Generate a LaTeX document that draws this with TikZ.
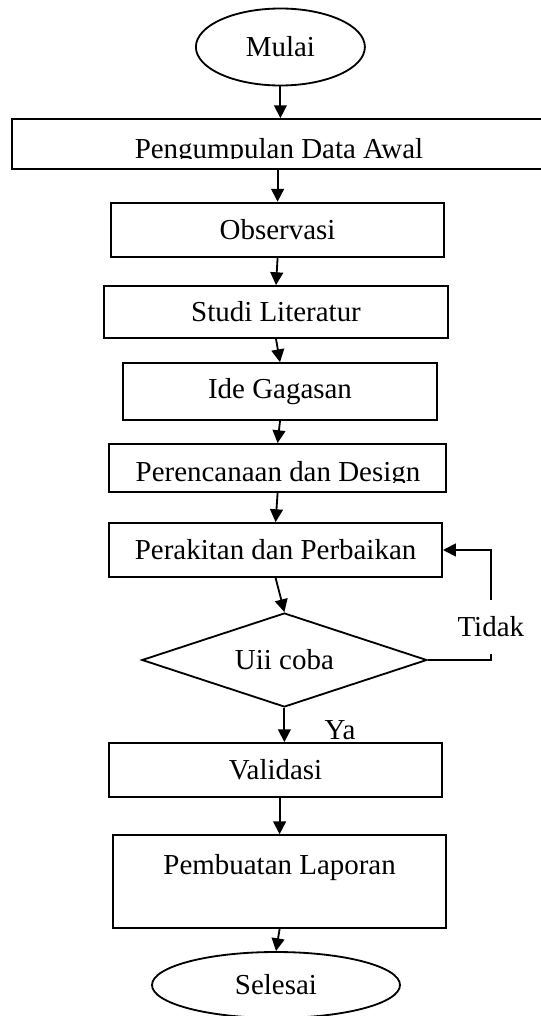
\documentclass[tikz,border=0pt]{standalone}
\usepackage{fontspec}
\setmainfont{Liberation Serif}
\usetikzlibrary{calc,shapes.geometric,arrows.meta}

\tikzset{
  proses/.style={draw, line width=1.3pt, minimum width=8.325cm, minimum height=1.35cm, inner sep=0pt},
  terminal/.style={draw, ellipse, line width=1.3pt, inner sep=0pt},
  keputusan/.style={draw, diamond, aspect=3, line width=1.3pt, inner sep=0pt},
  panah/.style={line width=1.3pt, -{Triangle[length=0.32cm,width=0.32cm]}},
  garis/.style={line width=1.3pt},
  ket/.style={fill=white, inner sep=1pt}
}

\begin{document}
\begin{tikzpicture}[font=\fontsize{20.6}{24.7}\selectfont]
    \useasboundingbox (0,0) rectangle (13.5,-25.4);
    \node[terminal, minimum width=4.225cm, minimum height=1.925cm] (mulai) at (7.01,-1.175) {Mulai};
    \node[proses, minimum width=13.7cm, minimum height=1.25cm] (data) at (7.15,-3.6) {};
    \begin{scope}
        \clip (0,-2.9) rectangle (13.5,-3.96);
        \node[anchor=base, inner sep=0pt] (tdata) at (6.975,-3.95) {Pengumpulan Data Awal};
    \end{scope}
    \node[proses] (obs) at (6.94,-5.74) {Observasi};
    \node[proses, minimum width=8.6cm, minimum height=1.3cm] (studi) at (6.9,-7.8) {Studi Literatur};
    \node[proses, minimum width=7.85cm, minimum height=1.425cm] (ide) at (7.0,-9.79) {Ide Gagasan};
    \node[proses, minimum width=8.425cm, minimum height=1.2cm] (rencana) at (6.94,-11.7) {};
    \begin{scope}
        \clip (2,-11) rectangle (12,-12.06);
        \node[anchor=base, inner sep=0pt] (trencana) at (6.95,-12.025) {Perencanaan dan Design};
    \end{scope}
    \node[proses] (perak) at (6.89,-13.75) {Perakitan dan Perbaikan};
    \node[keputusan, minimum width=7.125cm, minimum height=2.35cm] (uji) at (7.11,-16.5) {\raisebox{-0.18cm}{Uii coba}};
    \node[proses] (valid) at (6.89,-19.25) {Validasi};
    \node[proses, minimum height=2.325cm, align=center] (lapor) at (6.99,-22.04) {Pembuatan Laporan\\\mbox{}};
    \node[terminal, minimum width=6.2cm, minimum height=1.65cm] (selesai) at (6.9,-24.625) {Selesai};

    % alur utama
    \draw[panah] (mulai.south) -- (mulai.south |- data.north);
    \draw[panah] (data.south -| obs.north) -- (obs.north);
    \draw[panah] (obs.south) -- (studi.north);
    \draw[panah] (studi.south) -- (ide.north);
    \draw[panah] (ide.south) -- (rencana.north);
    \draw[panah] (rencana.south) -- (perak.north);
    \draw[panah] (perak.south) -- (uji.north);
    \draw[panah] (uji.south) -- (uji.south |- valid.north);
    \draw[panah] (valid.south -| lapor.north) -- (lapor.north);
    \draw[panah] (lapor.south) -- (selesai.north);
    \node (ya) at (8.5,-18.25) {Ya};

    % kembali jika gagal
    \coordinate (balik) at ($(uji.east)+(1.575,0)$);
    \node[ket, minimum height=1.35cm] (tidak) at (balik |- 0,-15.675) {Tidak};
    \draw[garis] (uji.east) -| (tidak.south);
    \draw[panah] (tidak.north) |- (perak.east);
\end{tikzpicture}
\end{document}
